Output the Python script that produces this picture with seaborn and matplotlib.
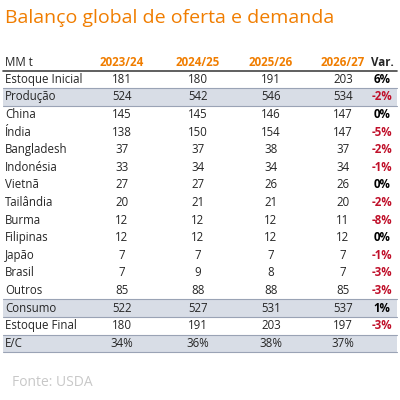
import matplotlib
matplotlib.use("Agg")
import matplotlib.pyplot as plt
import seaborn as sns

sns.set_theme(style="white")
plt.rcParams['font.family'] = ['Open Sans', 'DejaVu Sans']

title = "Balanço global de oferta e demanda"
unit = "MM t"
years = ["2023/24", "2024/25", "2025/26", "2026/27"]
rows = ["Estoque Inicial", "Produção", "China", "Índia", "Bangladesh", "Indonésia",
        "Vietnã", "Tailândia", "Burma", "Filipinas", "Japão", "Brasil", "Outros",
        "Consumo", "Estoque Final", "E/C"]
v2324 = ["181", "524", "145", "138", "37", "33", "27", "20", "12", "12", "7", "7", "85", "522", "180", "34%"]
v2425 = ["180", "542", "145", "150", "37", "34", "27", "21", "12", "12", "7", "9", "88", "527", "191", "36%"]
v2526 = ["191", "546", "146", "154", "38", "34", "26", "21", "12", "12", "7", "8", "88", "531", "203", "38%"]
v2627 = ["203", "534", "147", "147", "37", "34", "26", "20", "11", "12", "7", "7", "85", "537", "197", "37%"]
var = ["6%", "-2%", "0%", "-5%", "-2%", "-1%", "0%", "-2%", "-8%", "0%", "-1%", "-3%", "-3%", "1%", "-3%", ""]
shaded = ["Produção", "Consumo", "E/C"]
source = "Fonte: USDA"

orange = "#f07d00"
red = "#c0102a"
shade = "#d8dde6"

fig = plt.figure(figsize=(4, 4), dpi=100)
ax = fig.add_axes([0, 0, 1, 1])
ax.set_xlim(0, 400)
ax.set_ylim(400, 0)
ax.axis("off")

fs = 8.3
ax.text(5, 18, title, color=orange, fontsize=14, va="center", ha="left")
y0, rh = 62, 17.6
ax.text(5, y0, unit, fontsize=fs, va="center")
cols = [122, 198, 271, 343]
for x, yr in zip(cols, years):
    ax.text(x, y0, yr, color=orange, fontsize=fs, fontweight="bold", va="center", ha="center")
ax.text(382, y0, "Var.", fontsize=fs, fontweight="bold", va="center", ha="center")
top = y0 + 8.5
ax.plot([3, 397], [top, top], color="#444444", lw=1.2)
series = [v2324, v2425, v2526, v2627]
for i, r in enumerate(rows):
    yt = top + i * rh
    yc = yt + rh / 2
    if r in shaded:
        ax.add_patch(plt.Rectangle((3, yt), 394, rh, color=shade, zorder=0, lw=0))
        ax.plot([3, 397], [yt, yt], color="#9aa3b5", lw=0.8)
        ax.plot([3, 397], [yt + rh, yt + rh], color="#9aa3b5", lw=0.8)
    ax.text(5, yc, r, fontsize=fs, va="center", ha="left")
    for x, s in zip(cols, series):
        ax.text(x, yc, s[i], fontsize=fs, va="center", ha="center")
    v = var[i]
    ax.text(382, yc, v, fontsize=fs, fontweight="bold", va="center", ha="center",
            color=red if v.startswith("-") else "black")
ax.text(12, 382, source, fontsize=10, color="#c8c8c8", va="center")
fig.savefig("out.png", dpi=100)
